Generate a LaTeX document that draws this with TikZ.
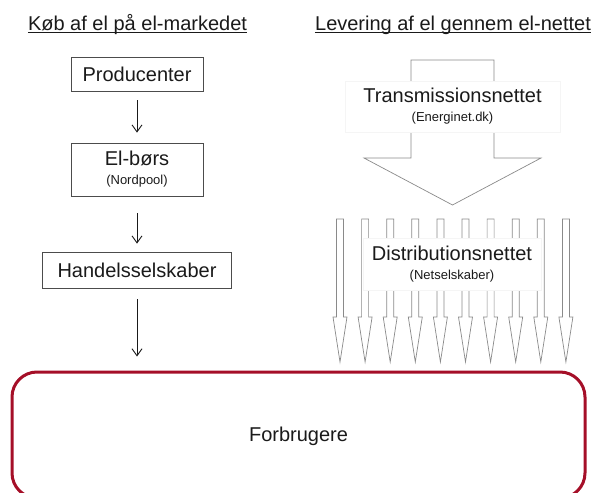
\documentclass[tikz,border=0pt]{standalone}
\usepackage{fontspec}
\setmainfont{Liberation Sans}
\usetikzlibrary{positioning, arrows.meta}
\definecolor{forbred}{HTML}{A50F28}
\definecolor{txtgray}{HTML}{1A1A1A}
\definecolor{arrgray}{HTML}{8A8A8A}
% 小字(括号里的说明)
\newcommand{\smalltxt}[1]{{\fontsize{13}{15}\selectfont #1}}

\begin{document}
\begin{tikzpicture}[
    % 坐标单位:1pt,y 轴向下(与像素坐标一致)
    x=1pt, y=-1pt,
    % 左侧方框样式
    mybox/.style={
        draw=black!70, % 边框颜色
        line width=0.8pt, % 边框宽度
        inner sep=0pt,
        align=center,
        text=txtgray,
        font=\fontsize{20}{24}\selectfont
        },
    % 标题样式
    mytitle/.style={
        font=\fontsize{20}{24}\selectfont,
        text=txtgray,
        inner sep=0pt,
        anchor=base
        },
    % 白底标注:盖住箭头
    mylabel/.style={
        fill=white,
        draw=black!4,
        inner sep=0pt,
        align=center,
        text=txtgray,
        font=\fontsize{20}{24}\selectfont
        },
    % 细箭头
    myline/.style={
        line width=0.9pt,
        draw=txtgray,
        -{Straight Barb[length=7pt, width=10pt]}
        },
    % 空心大箭头
    blockarr/.style={draw=arrgray, line width=0.7pt, fill=white}
    ]
    \useasboundingbox (0,0) rectangle (595,493);
    % ========== 第一步:两个标题 ==========
    \foreach \name/\x/\txt in {tl/137.5/{Køb af el på el-markedet}, tr/453/{Levering af el gennem el-nettet}} {
        \node [mytitle] (\name) at (\x, 30.5) {\txt};
        \draw [line width=1.1pt, txtgray] ([yshift=-2.3pt]\name.base west) -- ([yshift=-2.3pt]\name.base east); % 下划线
    }
    % ========== 第二步:左侧方框 ==========
    \node [mybox, minimum width=132pt, minimum height=34pt] (prod) at (137, 74) {Producenter};
    \node [mybox, minimum width=132pt, minimum height=53pt] (boers) at (137, 169.5) {El-børs\\[-5pt]\smalltxt{(Nordpool)}};
    \node [mybox, minimum width=189pt, minimum height=36pt] (hand) at (137, 270) {Handelsselskaber};
    % 底部圆角框(下边缘超出画面)
    \node [draw=forbred, line width=3pt, rounded corners=25pt, minimum width=573pt, minimum height=126pt,
        font=\fontsize{20}{24}\selectfont, text=txtgray, text depth=2pt] (forb) at (298.5, 435) {Forbrugere};
    % ========== 第三步:左侧箭头 ==========
    \foreach \start/\end/\sa/\sb in {prod/boers/9pt/10pt, boers/hand/17pt/8pt} {
        \draw [myline, shorten <=\sa, shorten >=\sb] (\start) -- (\end);
    }
    \draw [myline, shorten <=11pt, shorten >=14pt] (hand) -- (hand |- forb.north);
    % ========== 第四步:右侧空心箭头 ==========
    % 输电网大箭头
    \draw [blockarr] (411,60) -- (494,60) -- (494,158) -- (541,158) -- (452.5,205)
        -- (364,158) -- (411,158) -- cycle;
    % 配电网小箭头(10 个)
    \foreach \i in {0,...,9} {
        \pgfmathsetmacro\xc{340+25.1*\i}
        \draw [blockarr] (\xc-3.5,219) -- (\xc+3.5,219) -- (\xc+3.5,317) -- (\xc+7,317)
            -- (\xc,362) -- (\xc-7,317) -- (\xc-3.5,317) -- cycle;
    }
    % ========== 第五步:白底标注 ==========
    \node [mylabel, minimum width=215pt, minimum height=51pt] (trans) at (452.5, 106.5)
        {Transmissionsnettet\\[-5pt]\smalltxt{(Energinet.dk)}};
    \node [mylabel, minimum width=178pt, minimum height=52pt] (dist) at (452, 264)
        {Distributionsnettet\\[-5pt]\smalltxt{(Netselskaber)}};
\end{tikzpicture}
\end{document}
